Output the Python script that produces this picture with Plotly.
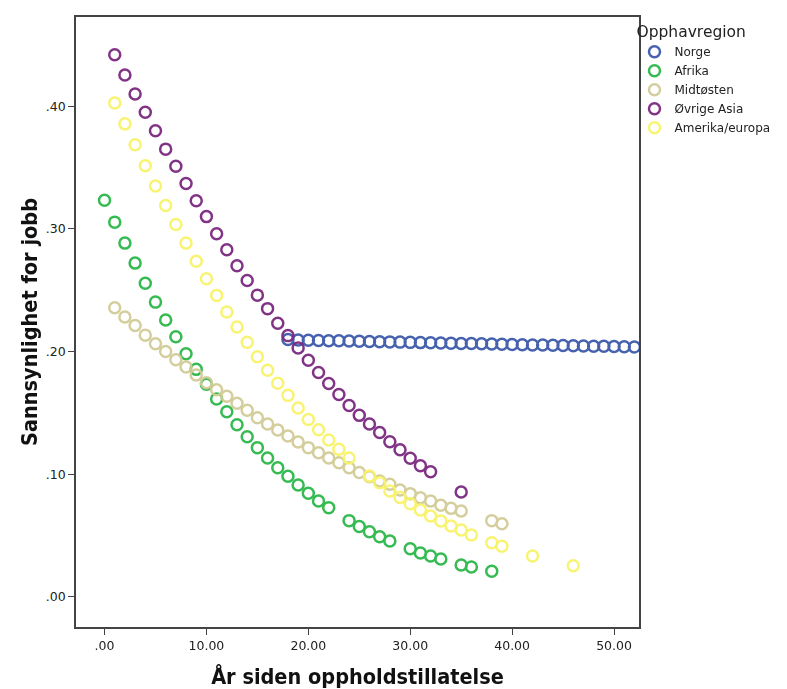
import plotly.graph_objects as go

# Predicted probability of employment by years since residence permit, per region of origin
norge_x = list(range(18, 53))
norge_y = [0.2098, 0.2095, 0.2093, 0.2091, 0.2089, 0.2088, 0.2086, 0.2084, 0.2082,
           0.2080, 0.2079, 0.2077, 0.2075, 0.2073, 0.2072, 0.2070, 0.2068, 0.2066,
           0.2065, 0.2063, 0.2061, 0.2060, 0.2058, 0.2056, 0.2054, 0.2053, 0.2051,
           0.2049, 0.2048, 0.2046, 0.2044, 0.2043, 0.2041, 0.2039, 0.2038]

afrika_x = [0, 1, 2, 3, 4, 5, 6, 7, 8, 9, 10, 11, 12, 13, 14, 15, 16, 17, 18, 19, 20,
            21, 22, 24, 25, 26, 27, 28, 30, 31, 32, 33, 35, 36, 38]
afrika_y = [0.3234, 0.3055, 0.2884, 0.2721, 0.2556, 0.2403, 0.2257, 0.2121, 0.1982,
            0.1855, 0.1733, 0.1613, 0.1510, 0.1404, 0.1306, 0.1217, 0.1132, 0.1053,
            0.0983, 0.0912, 0.0845, 0.0782, 0.0728, 0.0622, 0.0574, 0.0532, 0.0491,
            0.0456, 0.0393, 0.0358, 0.0334, 0.0310, 0.0261, 0.0244, 0.0209]

midtosten_x = [1, 2, 3, 4, 5, 6, 7, 8, 9, 10, 11, 12, 13, 14, 15, 16, 17, 18, 19, 20,
               21, 22, 23, 24, 25, 26, 27, 28, 29, 30, 31, 32, 33, 34, 35, 38, 39]
midtosten_y = [0.2357, 0.2281, 0.2213, 0.2134, 0.2064, 0.2001, 0.1933, 0.1874, 0.1810,
               0.1746, 0.1689, 0.1635, 0.1578, 0.1521, 0.1461, 0.1409, 0.1360, 0.1312,
               0.1263, 0.1217, 0.1176, 0.1132, 0.1094, 0.1053, 0.1015, 0.0980, 0.0945,
               0.0918, 0.0872, 0.0842, 0.0809, 0.0782, 0.0747, 0.0722, 0.0701, 0.0622,
               0.0597]

asia_x = [1, 2, 3, 4, 5, 6, 7, 8, 9, 10, 11, 12, 13, 14, 15, 16, 17, 18, 19, 20,
          21, 22, 23, 24, 25, 26, 27, 28, 29, 30, 31, 32, 35]
asia_y = [0.4420, 0.4255, 0.4100, 0.3950, 0.3800, 0.3650, 0.3510, 0.3370, 0.3230,
          0.3100, 0.2960, 0.2830, 0.2700, 0.2580, 0.2460, 0.2350, 0.2230, 0.2130,
          0.2030, 0.1930, 0.1830, 0.1740, 0.1650, 0.1560, 0.1480, 0.1410, 0.1340,
          0.1265, 0.1200, 0.1130, 0.1070, 0.1020, 0.0855]

amerika_x = [1, 2, 3, 4, 5, 6, 7, 8, 9, 10, 11, 12, 13, 14, 15, 16, 17, 18, 19, 20,
             21, 22, 23, 24, 26, 27, 28, 29, 30, 31, 32, 33, 34, 35, 36, 38, 39, 42, 46]
amerika_y = [0.4027, 0.3856, 0.3685, 0.3514, 0.3350, 0.3190, 0.3036, 0.2884, 0.2737,
             0.2593, 0.2458, 0.2322, 0.2200, 0.2075, 0.1958, 0.1847, 0.1741, 0.1643,
             0.1540, 0.1447, 0.1363, 0.1279, 0.1203, 0.1132, 0.0986, 0.0931, 0.0864,
             0.0810, 0.0760, 0.0709, 0.0660, 0.0620, 0.0578, 0.0546, 0.0505, 0.0442,
             0.0413, 0.0334, 0.0255]

series = [
    ("Norge", norge_x, norge_y, "#3d5aab"),
    ("Afrika", afrika_x, afrika_y, "#2cb84a"),
    ("Midtøsten", midtosten_x, midtosten_y, "#d2cc98"),
    ("Øvrige Asia", asia_x, asia_y, "#7b2a80"),
    ("Amerika/europa", amerika_x, amerika_y, "#f8f36a"),
]

x_ticks = [0, 10, 20, 30, 40, 50]
x_tick_labels = [".00", "10.00", "20.00", "30.00", "40.00", "50.00"]
y_ticks = [0.0, 0.1, 0.2, 0.3, 0.4]
y_tick_labels = [".00", ".10", ".20", ".30", ".40"]

fig = go.Figure()
for name, xs, ys, color in series:
    fig.add_trace(go.Scatter(
        x=xs, y=ys, mode="markers", name=name,
        marker=dict(symbol="circle-open", size=11, color=color,
                    line=dict(width=2.5, color=color)),
        opacity=0.95,
    ))

axis_common = dict(
    showline=True, linecolor="#444444", linewidth=1.5, mirror=True,
    showgrid=False, zeroline=False, automargin=False,
    ticks="outside", ticklen=6, tickwidth=1.2, tickcolor="#444444",
    tickfont=dict(family="DejaVu Sans", size=12.5, color="#222222"),
)

title_font = dict(family="Liberation Sans Narrow, DejaVu Sans Condensed",
                  size=21.5, color="#111111")

fig.update_layout(
    width=787, height=689,
    paper_bgcolor="white", plot_bgcolor="white",
    margin=dict(l=76, r=146, t=17, b=62),
    xaxis=dict(range=[-2.8, 52.45], tickvals=x_ticks, ticktext=x_tick_labels,
               title=dict(text="<b>År siden oppholdstillatelse</b>", standoff=17,
                          font=title_font),
               **axis_common),
    yaxis=dict(range=[-0.0245, 0.4727], tickvals=y_ticks, ticktext=y_tick_labels,
               title=dict(text="<b>Sannsynlighet for jobb</b>", standoff=2,
                          font=title_font),
               **axis_common),
    legend=dict(
        title=dict(text="Opphavregion",
                   font=dict(family="DejaVu Sans", size=15.5, color="#222222")),
        font=dict(family="DejaVu Sans", size=12, color="#222222"),
        x=0.992, xanchor="left", y=1.0, yanchor="top",
        itemwidth=30, tracegroupgap=0, bgcolor="rgba(0,0,0,0)",
    ),
)

fig.write_html("out.html")
